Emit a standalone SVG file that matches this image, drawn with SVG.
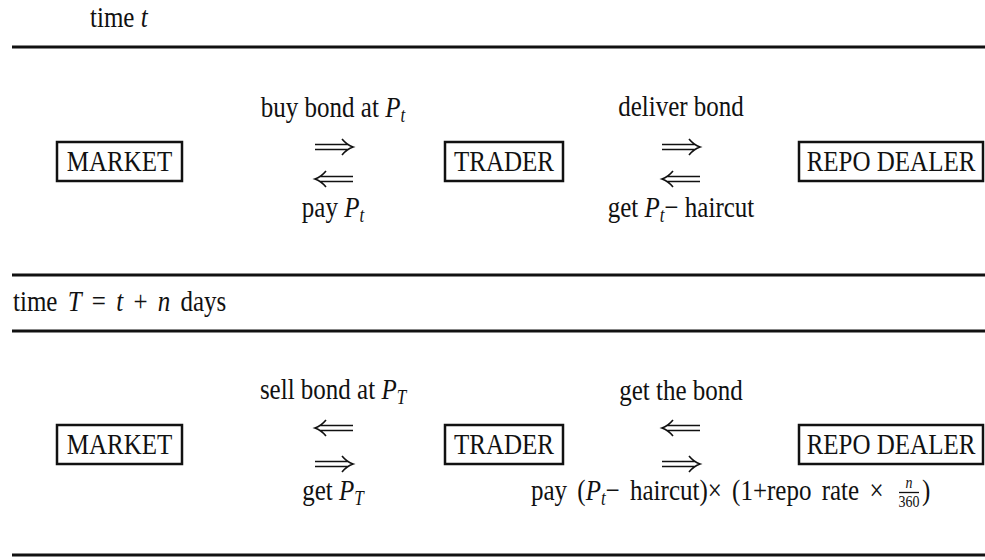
<svg xmlns="http://www.w3.org/2000/svg" width="985" height="560" viewBox="0 0 985 560">
<style>
text{font-family:"Liberation Serif","Times New Roman",serif;font-size:25px;fill:#111}
.c{text-anchor:middle}
.i{font-style:italic}
.s{font-size:17px;font-style:italic}
.f{font-size:14px}
.rule{stroke:#111;stroke-width:3}
.box{fill:#fff;stroke:#111;stroke-width:2.5}
.arr{fill:none;stroke:#111;stroke-width:1.6}
</style>
<defs>
<g id="rarr" class="arr"><path d="M-19,-2.5H14M-19,2.5H14M8,-8Q13,-2 19,0Q13,2 8,8"/></g>
<g id="larr" class="arr"><path d="M19,-2.5H-14M19,2.5H-14M-8,-8Q-13,-2 -19,0Q-13,2 -8,8"/></g>
</defs>
<rect width="985" height="560" fill="#fff"/>
<g id="rules">
<line class="rule" x1="12" y1="47" x2="985" y2="47"/>
<line class="rule" x1="12" y1="275" x2="985" y2="275"/>
<line class="rule" x1="12" y1="331" x2="985" y2="331"/>
<line class="rule" x1="12" y1="555" x2="985" y2="555"/>
</g>
<g id="headers">
<text transform="translate(90,27) scale(1,1.2)">time <tspan class="i">t</tspan></text>
<text style="word-spacing:4px" transform="translate(13,311) scale(1,1.2)">time <tspan class="i">T</tspan> = <tspan class="i">t</tspan> + <tspan class="i">n</tspan> days</text>
</g>
<g id="market1"><rect class="box" x="57" y="142" width="125" height="39"/><text class="c" transform="translate(119.5,171) scale(1,1.2)">MARKET</text></g>
<g id="trader1"><rect class="box" x="445" y="142" width="118" height="39"/><text class="c" transform="translate(504,171) scale(1,1.2)">TRADER</text></g>
<g id="dealer1"><rect class="box" x="799" y="142" width="184" height="39"/><text class="c" transform="translate(891,171) scale(1,1.2)">REPO DEALER</text></g>
<g id="market2"><rect class="box" x="57" y="425" width="125" height="39"/><text class="c" transform="translate(119.5,454) scale(1,1.2)">MARKET</text></g>
<g id="trader2"><rect class="box" x="445" y="425" width="118" height="39"/><text class="c" transform="translate(504,454) scale(1,1.2)">TRADER</text></g>
<g id="dealer2"><rect class="box" x="799" y="425" width="184" height="39"/><text class="c" transform="translate(891,454) scale(1,1.2)">REPO DEALER</text></g>
<g id="connectors">
<use href="#rarr" x="334" y="147"/>
<use href="#larr" x="334" y="179"/>
<use href="#rarr" x="681" y="147"/>
<use href="#larr" x="681" y="179"/>
<use href="#larr" x="334" y="428"/>
<use href="#rarr" x="334" y="464"/>
<use href="#larr" x="681" y="428"/>
<use href="#rarr" x="681" y="464"/>
</g>
<g id="labels">
<text class="c" transform="translate(333,117) scale(1,1.2)">buy bond at <tspan class="i">P</tspan><tspan class="s" dy="4">t</tspan></text>
<text class="c" transform="translate(333,217) scale(1,1.2)">pay <tspan class="i">P</tspan><tspan class="s" dy="4">t</tspan></text>
<text class="c" transform="translate(681,116) scale(1,1.2)">deliver bond</text>
<text class="c" transform="translate(681,217) scale(1,1.2)">get <tspan class="i">P</tspan><tspan class="s" dy="4">t</tspan><tspan dy="-4">− haircut</tspan></text>
<text class="c" transform="translate(333,399) scale(1,1.2)">sell bond at <tspan class="i">P</tspan><tspan class="s" dy="4">T</tspan></text>
<text class="c" transform="translate(333,500) scale(1,1.2)">get <tspan class="i">P</tspan><tspan class="s" dy="4">T</tspan></text>
<text class="c" transform="translate(681,400) scale(1,1.2)">get the bond</text>
<text style="word-spacing:4px" transform="translate(531,500) scale(1,1.2)">pay (<tspan class="i">P</tspan><tspan class="s" dy="4">t</tspan><tspan dy="-4">− haircut)× (1+repo rate × </tspan></text>
<text class="c f" transform="translate(909,488) scale(1,1.15)"><tspan class="i">n</tspan></text>
<line x1="899" y1="492.5" x2="919" y2="492.5" stroke="#111" stroke-width="1.3"/>
<text class="c f" transform="translate(909,507) scale(1,1.15)">360</text>
<text transform="translate(922,500) scale(1,1.2)">)</text>
</g>
</svg>
